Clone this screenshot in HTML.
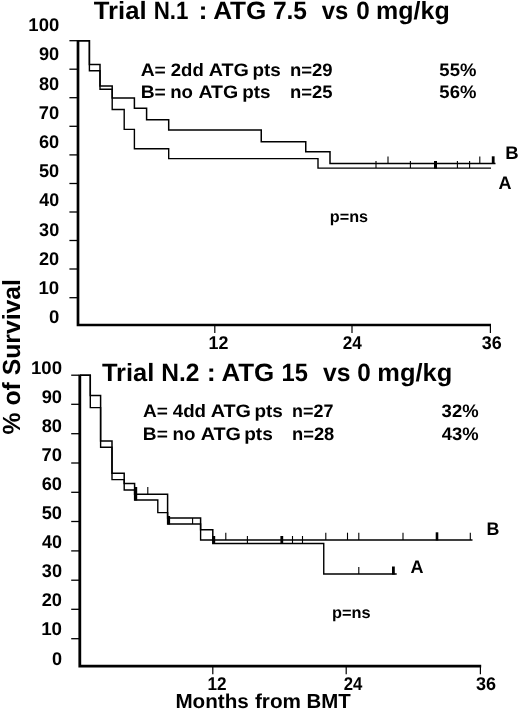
<!DOCTYPE html>
<html lang="en"><head><meta charset="utf-8"><title>Survival curves</title>
<style>
html,body{margin:0;padding:0;background:#fff;}
svg{display:block;}
</style></head>
<body>
<svg width="520" height="712" viewBox="0 0 520 712" shape-rendering="geometricPrecision" text-rendering="geometricPrecision">
<rect x="0" y="0" width="520" height="712" fill="#fff"/>
<g stroke="#000" fill="none" stroke-linecap="butt">
<path d="M78,40.2 V325 H491" stroke-width="2.7" stroke-linejoin="miter"/>
<path d="M69.4,40.7 H78" stroke-width="1.3"/>
<path d="M69.4,69.2 H78" stroke-width="1.3"/>
<path d="M69.4,97.7 H78" stroke-width="1.3"/>
<path d="M69.4,126.3 H78" stroke-width="1.3"/>
<path d="M69.4,154.9 H78" stroke-width="1.3"/>
<path d="M69.4,183.5 H78" stroke-width="1.3"/>
<path d="M69.4,212.0 H78" stroke-width="1.3"/>
<path d="M69.4,240.5 H78" stroke-width="1.3"/>
<path d="M69.4,269.0 H78" stroke-width="1.3"/>
<path d="M69.4,297.7 H78" stroke-width="1.3"/>
<path d="M214.8,325 V333" stroke-width="1.2"/>
<path d="M352,325 V333" stroke-width="1.2"/>
<path d="M490.4,325 V333" stroke-width="1.2"/>
<path d="M78,40.7 L89.4,40.7 L89.4,64.6 L100,64.6 L100,86 L112.2,86 L112.2,98 L134.4,98 L134.4,108.3 L146.6,108.3 L146.6,119.7 L168.7,119.7 L168.7,130 L261.25,130 L261.25,141.75 L305.75,141.75 L305.75,151.75 L330,151.75 L330,163.4 L495.5,163.4" stroke-width="1.5"/>
<path d="M78,40.7 L89.4,40.7 L89.4,70.8 L100,70.8 L100,89.2 L112.2,89.2 L112.2,109.5 L124.2,109.5 L124.2,129.4 L134.4,129.4 L134.4,148.7 L168.7,148.7 L168.7,158.6 L318,158.6 L318,168.1 L491,168.1" stroke-width="1.4"/>
<path d="M376,161 V168.1" stroke-width="1.1"/>
<path d="M410.4,161 V168.1" stroke-width="1.1"/>
<path d="M457.4,161 V168.1" stroke-width="1.1"/>
<path d="M469.6,161 V168.1" stroke-width="1.1"/>
<path d="M435.5,161 V168.6" stroke-width="3"/>
<path d="M388,156.5 V163.4" stroke-width="1.1"/>
<path d="M479.8,156.5 V163.4" stroke-width="1.1"/>
<path d="M493.2,156.3 V163.8" stroke-width="2.8"/>
</g>
<g stroke="#000" fill="none" stroke-linecap="butt">
<path d="M79.8,374.75 V666.2 H481.2" stroke-width="2.8" stroke-linejoin="miter"/>
<path d="M71.2,375.2 H79.8" stroke-width="1.3"/>
<path d="M71.2,404.3 H79.8" stroke-width="1.3"/>
<path d="M71.2,433.7 H79.8" stroke-width="1.3"/>
<path d="M71.2,463.0 H79.8" stroke-width="1.3"/>
<path d="M71.2,492.3 H79.8" stroke-width="1.3"/>
<path d="M71.2,521.5 H79.8" stroke-width="1.3"/>
<path d="M71.2,550.9 H79.8" stroke-width="1.3"/>
<path d="M71.2,580.2 H79.8" stroke-width="1.3"/>
<path d="M71.2,609.3 H79.8" stroke-width="1.3"/>
<path d="M71.2,638.7 H79.8" stroke-width="1.3"/>
<path d="M212.8,666.2 V674.3" stroke-width="1.2"/>
<path d="M346.2,666.2 V674.3" stroke-width="1.2"/>
<path d="M480.4,666.2 V674.3" stroke-width="1.2"/>
<path d="M80,375.25 L90.3,375.25 L90.3,395.6 L100.6,395.6 L100.6,441 L112,441 L112,473.3 L124.2,473.3 L124.2,483.6 L134.6,483.6 L134.6,494.2 L167.6,494.2 L167.6,518 L200.6,518 L200.6,529.7 L212.8,529.7 L212.8,540 L472.5,540" stroke-width="1.5"/>
<path d="M80,375.25 L90.3,375.25 L90.3,407.6 L100.6,407.6 L100.6,447.2 L112,447.2 L112,479.6 L124.2,479.6 L124.2,490 L134.6,490 L134.6,500 L157.8,500 L157.8,512.6 L167.6,512.6 L167.6,524 L200.6,524 L200.6,540 L212.8,540 L212.8,543.5 L323.75,543.5 L323.75,574 L396.7,574" stroke-width="1.4"/>
<path d="M135.8,487 V500.5" stroke-width="2.8"/>
<path d="M168.8,516 V524.5" stroke-width="2.6"/>
<path d="M213.8,536 V544" stroke-width="2.8"/>
<path d="M281.8,536 V544" stroke-width="2.8"/>
<path d="M437,532.3 V540.5" stroke-width="2.6"/>
<path d="M393.4,566.5 V574.6" stroke-width="2.8"/>
<path d="M147.8,487 V494.2" stroke-width="1.1"/>
<path d="M192.6,518 V524" stroke-width="1.1"/>
<path d="M225.8,532.7 V540" stroke-width="1.1"/>
<path d="M325.8,532.7 V540" stroke-width="1.1"/>
<path d="M347.5,532.7 V540" stroke-width="1.1"/>
<path d="M358.8,532.7 V540" stroke-width="1.1"/>
<path d="M403,532.7 V540" stroke-width="1.1"/>
<path d="M470.3,532.7 V540" stroke-width="1.1"/>
<path d="M247.4,536 V543.5" stroke-width="1.1"/>
<path d="M292.5,536 V543.5" stroke-width="1.1"/>
<path d="M302.5,536 V543.5" stroke-width="1.1"/>
<path d="M358.8,567 V574" stroke-width="1.1"/>
</g>
<g font-family="'Liberation Sans', Arial, Helvetica, sans-serif" font-weight="bold" fill="#000">
<text transform="translate(93.84 19.4) scale(1.0268 1)" font-size="25">Trial</text>
<text transform="translate(153.75 19.4) scale(0.8928 1)" font-size="25">N.1</text>
<text transform="translate(198.62 19.4) scale(1.0857 1)" font-size="25">:</text>
<text transform="translate(213.15 19.4) scale(1.0462 1)" font-size="25">ATG</text>
<text transform="translate(272.89 19.4) scale(0.9825 1)" font-size="25">7.5</text>
<text transform="translate(321.78 19.4) scale(0.9540 1)" font-size="25">vs</text>
<text transform="translate(356.13 19.4) scale(0.9684 1)" font-size="25">0</text>
<text transform="translate(376.08 19.4) scale(0.9993 1)" font-size="25">mg/kg</text>
<text transform="translate(101.95 381) scale(1.0187 1)" font-size="25">Trial</text>
<text transform="translate(161.30 381) scale(0.9821 1)" font-size="25">N.2</text>
<text transform="translate(206.82 381) scale(1.0857 1)" font-size="25">:</text>
<text transform="translate(221.45 381) scale(1.0379 1)" font-size="25">ATG</text>
<text transform="translate(281.56 381) scale(0.9490 1)" font-size="25">15</text>
<text transform="translate(322.98 381) scale(0.9878 1)" font-size="25">vs</text>
<text transform="translate(357.33 381) scale(0.9684 1)" font-size="25">0</text>
<text transform="translate(377.35 381) scale(1.0178 1)" font-size="25">mg/kg</text>
<text transform="translate(28.37 31.1) scale(1.0043 1)" font-size="18.4">100</text>
<text transform="translate(38.98 60.32) scale(0.9882 1)" font-size="18.4">90</text>
<text transform="translate(38.98 89.54) scale(0.9882 1)" font-size="18.4">80</text>
<text transform="translate(38.85 118.76) scale(0.9947 1)" font-size="18.4">70</text>
<text transform="translate(38.98 147.98) scale(0.9882 1)" font-size="18.4">60</text>
<text transform="translate(38.98 177.2) scale(0.9882 1)" font-size="18.4">50</text>
<text transform="translate(39.36 206.42) scale(0.9692 1)" font-size="18.4">40</text>
<text transform="translate(39.11 235.64) scale(0.9818 1)" font-size="18.4">30</text>
<text transform="translate(38.98 264.86) scale(0.9882 1)" font-size="18.4">20</text>
<text transform="translate(38.46 294.08) scale(1.0148 1)" font-size="18.4">10</text>
<text transform="translate(48.95 323.3) scale(1.0057 1)" font-size="18.4">0</text>
<text transform="translate(30.96 373.5) scale(1.0113 1)" font-size="18.4">100</text>
<text transform="translate(41.68 402.6) scale(0.9935 1)" font-size="18.4">90</text>
<text transform="translate(41.68 431.7) scale(0.9935 1)" font-size="18.4">80</text>
<text transform="translate(41.55 460.8) scale(1.0000 1)" font-size="18.4">70</text>
<text transform="translate(41.68 489.9) scale(0.9935 1)" font-size="18.4">60</text>
<text transform="translate(41.68 519.0) scale(0.9935 1)" font-size="18.4">50</text>
<text transform="translate(42.06 548.1) scale(0.9744 1)" font-size="18.4">40</text>
<text transform="translate(41.81 577.2) scale(0.9870 1)" font-size="18.4">30</text>
<text transform="translate(41.68 606.3) scale(0.9935 1)" font-size="18.4">20</text>
<text transform="translate(41.15 635.4) scale(1.0201 1)" font-size="18.4">10</text>
<text transform="translate(51.96 664.5) scale(0.9829 1)" font-size="18.4">0</text>
<text transform="translate(208.51 349.2) scale(0.9718 1)" font-size="18.4">12</text>
<text transform="translate(342.72 349.2) scale(0.9316 1)" font-size="18.4">24</text>
<text transform="translate(481.71 349.2) scale(0.9766 1)" font-size="18.4">36</text>
<text transform="translate(207.55 690.3) scale(0.9342 1)" font-size="18.4">12</text>
<text transform="translate(343.73 690.3) scale(0.9114 1)" font-size="18.4">24</text>
<text transform="translate(476.01 690.3) scale(0.9818 1)" font-size="18.4">36</text>
<text transform="translate(140.67 75.9) scale(1.0697 1)" font-size="18">A=</text>
<text transform="translate(170.76 75.9) scale(1.0290 1)" font-size="18">2dd</text>
<text transform="translate(208.65 75.9) scale(1.0971 1)" font-size="18">ATG</text>
<text transform="translate(252.49 75.9) scale(1.0480 1)" font-size="18">pts</text>
<text transform="translate(289.96 75.9) scale(1.0284 1)" font-size="18">n=29</text>
<text transform="translate(439.36 75.9) scale(1.0265 1)" font-size="18">55%</text>
<text transform="translate(140.66 98.35) scale(1.0698 1)" font-size="18">B=</text>
<text transform="translate(170.21 98.35) scale(1.0350 1)" font-size="18">no</text>
<text transform="translate(198.46 98.35) scale(1.0857 1)" font-size="18">ATG</text>
<text transform="translate(242.29 98.35) scale(1.0480 1)" font-size="18">pts</text>
<text transform="translate(289.97 98.35) scale(1.0252 1)" font-size="18">n=25</text>
<text transform="translate(439.36 98.35) scale(1.0265 1)" font-size="18">56%</text>
<text transform="translate(142.97 417.0) scale(1.0562 1)" font-size="18">A=</text>
<text transform="translate(172.74 417.0) scale(1.0393 1)" font-size="18">4dd</text>
<text transform="translate(210.65 417.0) scale(1.1000 1)" font-size="18">ATG</text>
<text transform="translate(254.38 417.0) scale(1.0520 1)" font-size="18">pts</text>
<text transform="translate(292.00 417.0) scale(0.9962 1)" font-size="18">n=27</text>
<text transform="translate(441.62 417.0) scale(1.0249 1)" font-size="18">32%</text>
<text transform="translate(142.87 439.7) scale(1.0605 1)" font-size="18">B=</text>
<text transform="translate(172.39 439.7) scale(1.0450 1)" font-size="18">no</text>
<text transform="translate(200.65 439.7) scale(1.1000 1)" font-size="18">ATG</text>
<text transform="translate(244.18 439.7) scale(1.0600 1)" font-size="18">pts</text>
<text transform="translate(291.98 439.7) scale(1.0189 1)" font-size="18">n=28</text>
<text transform="translate(441.74 439.7) scale(1.0213 1)" font-size="18">43%</text>
<text transform="translate(329.77 222.3) scale(1.0069 1)" font-size="16.1">p=ns</text>
<text transform="translate(332.06 618.1) scale(1.0152 1)" font-size="16.1">p=ns</text>
<text transform="translate(505.33 158.9) scale(1.0182 1)" font-size="18.2">B</text>
<text transform="translate(498.41 188.6) scale(0.9897 1)" font-size="18.2">A</text>
<text transform="translate(486.47 535.2) scale(0.9818 1)" font-size="18.2">B</text>
<text transform="translate(410.51 572.5) scale(0.9897 1)" font-size="18.2">A</text>
<text transform="translate(175.39 708.4) scale(1.0226 1)" font-size="20.2">Months</text>
<text transform="translate(254.92 708.4) scale(1.0266 1)" font-size="20.2">from</text>
<text transform="translate(306.61 708.4) scale(1.0113 1)" font-size="20.2">BMT</text>
<text transform="translate(20.4 434.42) rotate(-90) scale(0.9976 1)" font-size="24.8">% of Survival</text>
</g>
</svg>
</body></html>
